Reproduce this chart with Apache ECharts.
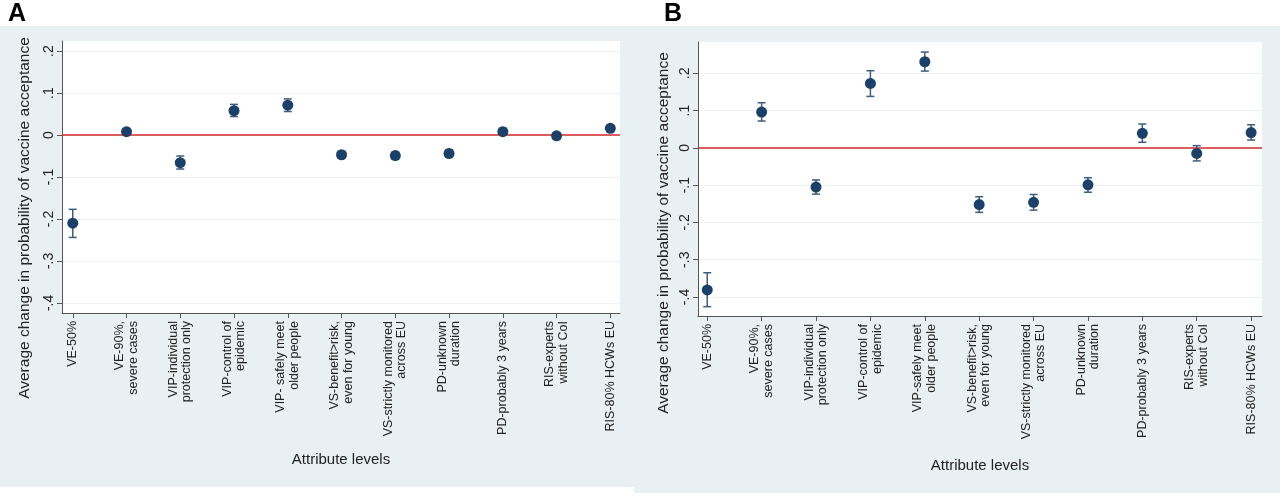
<!DOCTYPE html>
<html>
<head>
<meta charset="utf-8">
<script src="https://cdn.jsdelivr.net/npm/echarts@6/dist/echarts.min.js"></script>
<style>
  html, body { margin: 0; padding: 0; background: #fff; }
  #main { width: 1280px; height: 496px; }
</style>
</head>
<body>
<div id="main"></div>
<script>
// attribute levels (x axis)
var levelsA = ['VE-50%', 'VE-90%,\nsevere cases', 'VIP-individual\nprotection only', 'VIP-control of\nepidemic',
  'VIP- safely meet\nolder people', 'VS-benefit>risk,\neven for young', 'VS-strictly monitored\nacross EU',
  'PD-unknown\nduration', 'PD-probably 3 years', 'RIS-experts\nwithout CoI', 'RIS-80% HCWs EU'];
var levelsB = ['VE-50%', 'VE-90%,\nsevere cases', 'VIP-individual\nprotection only', 'VIP-control of\nepidemic',
  'VIP-safely meet\nolder people', 'VS-benefit>risk,\neven for young', 'VS-strictly monitored\nacross EU',
  'PD-unknown\nduration', 'PD-probably 3 years', 'RIS-experts\nwithout CoI', 'RIS-80% HCWs EU'];

// panel A: estimate, lower and upper CI
var estA = [-0.210, 0.008, -0.066, 0.058, 0.071, -0.047, -0.049, -0.044, 0.008, -0.002, 0.016];
var loA  = [-0.244, 0.002, -0.081, 0.044, 0.056, -0.055, -0.057, -0.052, 0.001, -0.009, 0.009];
var hiA  = [-0.177, 0.014, -0.050, 0.073, 0.086, -0.039, -0.041, -0.035, 0.016, 0.005, 0.022];

// panel B
var estB = [-0.381, 0.096, -0.105, 0.173, 0.231, -0.152, -0.146, -0.099, 0.039, -0.015, 0.041];
var loB  = [-0.426, 0.072, -0.124, 0.138, 0.206, -0.173, -0.167, -0.119, 0.015, -0.035, 0.021];
var hiB  = [-0.335, 0.121, -0.086, 0.207, 0.257, -0.131, -0.125, -0.080, 0.064, 0.006, 0.062];

var yTicks = [-0.4, -0.3, -0.2, -0.1, 0, 0.1, 0.2];
var xTicks = [0, 1, 2, 3, 4, 5, 6, 7, 8, 9, 10];

var dotColor = '#1b4069';
var barColor = '#3d5e80';
var axisColor = '#555';
var font = 'Liberation Sans, Arial, sans-serif';

function tickLabel(v) {
  if (Math.abs(v) < 1e-9) return '0';
  var s = (Math.round(v * 10) / 10).toString();
  return s.replace('0.', '.');
}

function xAxisFor(idx, labels, min, max) {
  return {
    type: 'value', gridIndex: idx, min: min, max: max,
    axisLine: { show: true, onZero: false, lineStyle: { color: axisColor, width: 1 } },
    axisTick: { show: true, customValues: xTicks, length: 5, lineStyle: { color: axisColor } },
    splitLine: { show: false },
    axisLabel: {
      customValues: xTicks, rotate: 90, margin: 8,
      color: '#222', fontFamily: font, fontSize: 12.5, lineHeight: 13.5,
      formatter: function (v) { return labels[Math.round(v)]; }
    }
  };
}

function yAxisFor(idx, min, max) {
  return {
    type: 'value', gridIndex: idx, min: min, max: max,
    axisLine: { show: true, onZero: false, lineStyle: { color: axisColor, width: 1 } },
    axisTick: { show: true, customValues: yTicks, length: 5, lineStyle: { color: axisColor } },
    splitLine: { show: true, lineStyle: { color: '#edf2f4', width: 1 } },
    axisLabel: {
      customValues: yTicks, rotate: 90, margin: 6,
      color: '#222', fontFamily: font, fontSize: 14,
      formatter: tickLabel
    }
  };
}

function errorSeries(idx, lo, hi) {
  var data = lo.map(function (l, i) { return [i, l, hi[i]]; });
  return {
    type: 'custom', xAxisIndex: idx, yAxisIndex: idx, z: 3,
    data: data,
    renderItem: function (params, api) {
      var x = api.value(0);
      var p1 = api.coord([x, api.value(1)]);
      var p2 = api.coord([x, api.value(2)]);
      var w = 4;
      var st = { stroke: barColor, lineWidth: 1.5 };
      return {
        type: 'group',
        children: [
          { type: 'line', shape: { x1: p1[0], y1: p1[1], x2: p2[0], y2: p2[1] }, style: st },
          { type: 'line', shape: { x1: p1[0] - w, y1: p1[1], x2: p1[0] + w, y2: p1[1] }, style: st },
          { type: 'line', shape: { x1: p2[0] - w, y1: p2[1], x2: p2[0] + w, y2: p2[1] }, style: st }
        ]
      };
    }
  };
}

function dotSeries(idx, est) {
  return {
    type: 'scatter', xAxisIndex: idx, yAxisIndex: idx, z: 4,
    symbol: 'circle', symbolSize: 11,
    itemStyle: { color: dotColor, opacity: 1 },
    data: est.map(function (v, i) { return [i, v]; }),
    markLine: {
      silent: true, symbol: 'none', label: { show: false }, z: 2,
      lineStyle: { color: '#d42a2a', width: 1.5, type: 'solid' },
      data: [{ yAxis: 0 }]
    }
  };
}

var chart = echarts.init(document.getElementById('main'));
chart.setOption({
  backgroundColor: '#fff',
  animation: false,
  graphic: [
    { type: 'rect', z: -10, shape: { x: 0, y: 26, width: 634, height: 461 }, style: { fill: '#e9f0f3' } },
    { type: 'rect', z: -10, shape: { x: 634, y: 26, width: 646, height: 467 }, style: { fill: '#e9f0f3' } },
    { type: 'text', x: 8, y: 2, style: { text: 'A', fontFamily: font, fontWeight: 'bold', fontSize: 25, fill: '#000' } },
    { type: 'text', x: 664, y: 2, style: { text: 'B', fontFamily: font, fontWeight: 'bold', fontSize: 25, fill: '#000' } },
    { type: 'text', x: 25, y: 218, rotation: Math.PI / 2,
      style: { text: 'Average change in probability of vaccine acceptance', fontFamily: font, fontSize: 15.5,
        fill: '#222', align: 'center', verticalAlign: 'middle' } },
    { type: 'text', x: 664, y: 233, rotation: Math.PI / 2,
      style: { text: 'Average change in probability of vaccine acceptance', fontFamily: font, fontSize: 15.5,
        fill: '#222', align: 'center', verticalAlign: 'middle' } },
    { type: 'text', x: 341, y: 460,
      style: { text: 'Attribute levels', fontFamily: font, fontSize: 15, fill: '#222', align: 'center', verticalAlign: 'middle' } },
    { type: 'text', x: 980, y: 466,
      style: { text: 'Attribute levels', fontFamily: font, fontSize: 15, fill: '#222', align: 'center', verticalAlign: 'middle' } }
  ],
  grid: [
    { left: 62, top: 41, width: 558, height: 272, show: true, backgroundColor: '#fff', borderWidth: 0 },
    { left: 698, top: 42, width: 564, height: 274, show: true, backgroundColor: '#fff', borderWidth: 0 }
  ],
  xAxis: [
    xAxisFor(0, levelsA, -0.2, 10.18),
    xAxisFor(1, levelsB, -0.17, 10.2)
  ],
  yAxis: [
    yAxisFor(0, -0.424, 0.224),
    yAxisFor(1, -0.451, 0.284)
  ],
  series: [
    errorSeries(0, loA, hiA),
    dotSeries(0, estA),
    errorSeries(1, loB, hiB),
    dotSeries(1, estB)
  ]
});
</script>
</body>
</html>
